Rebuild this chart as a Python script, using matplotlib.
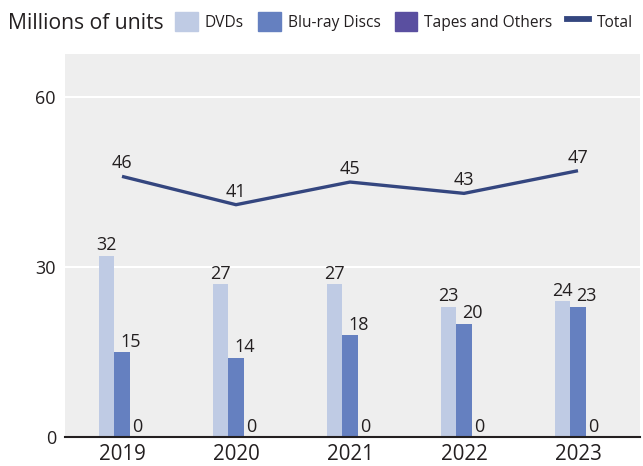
import matplotlib
matplotlib.use("Agg")
import matplotlib.pyplot as plt
import numpy as np
from matplotlib.patches import Patch
from matplotlib.lines import Line2D

plt.rcParams['font.family'] = ['Open Sans', 'DejaVu Sans']

years = ["2019", "2020", "2021", "2022", "2023"]
dvds = [32, 27, 27, 23, 24]
bluray = [15, 14, 18, 20, 23]
tapes = [0, 0, 0, 0, 0]
total = [46, 41, 45, 43, 47]
yticks = [0, 30, 60]

c_dvd = "#bfcbe4"
c_blu = "#6580c0"
c_tape = "#5a4fa0"
c_total = "#34467f"
txt = "#231f20"

fig = plt.figure(figsize=(6.43, 4.66), dpi=100)
ax = fig.add_axes([65/643, 1-437/466, 575/643, (437-54)/466])
ax.set_facecolor("#eeeeee")

x = np.arange(len(years))
w = 0.136
ax.bar(x - w, dvds, w, color=c_dvd, zorder=3)
ax.bar(x, bluray, w, color=c_blu, zorder=3)
ax.bar(x + w, tapes, w, color=c_tape, zorder=3)
ax.plot(x, total, color=c_total, lw=2.4, zorder=4, solid_capstyle='butt', solid_joinstyle='miter')

for xs, vals, dx in [(x - w, dvds, 0), (x, bluray, 6), (x + w, tapes, 0)]:
    for xi, v in zip(xs, vals):
        ax.annotate(str(v), (xi, v), xytext=(dx, 1), textcoords='offset points',
                    ha='center', va='bottom', fontsize=13, color=txt, zorder=5)
for xi, v in zip(x, total):
    ax.annotate(str(v), (xi, v), xytext=(0, 3), textcoords='offset points',
                ha='center', va='bottom', fontsize=13, color=txt, zorder=5)

ax.set_xlim(-0.5, 4.544)
ax.set_ylim(0, 67.6)
ax.set_yticks(yticks)
ax.set_yticklabels([str(t) for t in yticks], fontsize=13, color=txt)
ax.set_xticks(x)
ax.set_xticklabels(years, fontsize=14.8, color=txt)
ax.tick_params(axis='both', length=0)
ax.tick_params(axis='y', pad=6.5)
ax.tick_params(axis='x', pad=5)
ax.grid(axis='y', color='white', lw=1.5, zorder=1)
for s in ['top', 'right', 'left']:
    ax.spines[s].set_visible(False)
ax.spines['bottom'].set_color(txt)
ax.spines['bottom'].set_linewidth(1.5)
ax.spines['bottom'].set_zorder(6)

fig.text(8/643, 1-29.3/466, "Millions of units", fontsize=15.2, color=txt,
         ha='left', va='baseline')
handles = [Patch(color=c_dvd), Patch(color=c_blu), Patch(color=c_tape),
           Line2D([0], [0], color=c_total, lw=4.2)]
labels = ["DVDs", "Blu-ray Discs", "Tapes and Others", "Total"]
leg = fig.legend(handles, labels, loc='center left', bbox_to_anchor=(175/643, 1-21.5/466),
                 ncol=4, frameon=False, fontsize=11.2, handlelength=1.45, handleheight=1.45,
                 handletextpad=0.45, columnspacing=0.92, borderaxespad=0, borderpad=0)
for t in leg.get_texts():
    t.set_color(txt)

fig.savefig("out.png", dpi=100)
